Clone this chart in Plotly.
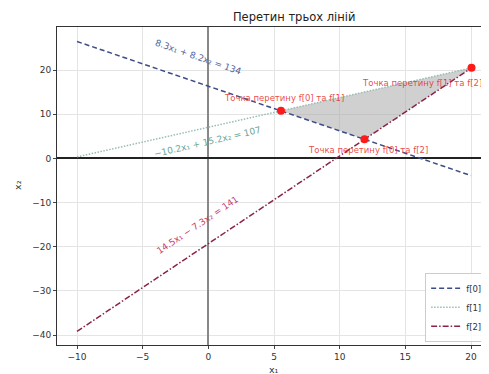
import plotly.graph_objects as go

# Line endpoints (x from -10 to 20)
line_x = [-10, 20]
f0_y = [26.46, -3.90]
f1_y = [0.33, 20.46]
f2_y = [-39.18, 20.41]
line_names = ["f[0]", "f[1]", "f[2]"]

# Intersection points
pts_x = [5.53, 11.89, 20.04]
pts_y = [10.75, 4.31, 20.49]
pt_labels = ["Точка перетину f[0] та f[1]", "Точка перетину f[0] та f[2]", "Точка перетину f[1] та f[2]"]

eq_labels = ["8.3x₁ + 8.2x₂ = 134", "−10.2x₁ + 15.2x₂ = 107", "14.5x₁ − 7.3x₂ = 141"]
eq_pos_x = [-0.8, -0.1, -0.8]
eq_pos_y = [22.9, 3.6, -15.2]

x_ticks = [-10, -5, 0, 5, 10, 15, 20]
y_ticks = [-40, -30, -20, -10, 0, 10, 20]

fig = go.Figure()

# filled triangle
fig.add_trace(go.Scatter(x=pts_x + [pts_x[0]], y=pts_y + [pts_y[0]], fill="toself",
                         fillcolor="rgba(170,170,170,0.55)", line=dict(width=0),
                         mode="lines", showlegend=False, hoverinfo="skip"))

fig.add_trace(go.Scatter(x=line_x, y=f0_y, mode="lines", name=line_names[0],
                         line=dict(color="#3b4c86", dash="5px,3px", width=1.5)))
fig.add_trace(go.Scatter(x=line_x, y=f1_y, mode="lines", name=line_names[1],
                         line=dict(color="#98bdb4", dash="1.5px,1.5px", width=1.5)))
fig.add_trace(go.Scatter(x=line_x, y=f2_y, mode="lines", name=line_names[2],
                         line=dict(color="#8a2346", dash="6px,2px,1.5px,2px", width=1.5)))

fig.add_trace(go.Scatter(x=pts_x, y=pts_y, mode="markers", showlegend=False,
                         marker=dict(color="#ff1a1a", size=8)))

# point annotations (pixel offsets from the points)
pt_xshift = [3, 4, -50]
pt_yshift = [13, -11, -15]
for i in range(3):
    fig.add_annotation(x=pts_x[i], y=pts_y[i], text=pt_labels[i], showarrow=False,
                       xshift=pt_xshift[i], yshift=pt_yshift[i],
                       font=dict(size=8.5, color="rgba(230,40,40,0.85)"))

eq_colors = ["#55659a", "#6aa596", "#c8386e"]
eq_angles = [19, -13, -34]
for i in range(3):
    fig.add_annotation(x=eq_pos_x[i], y=eq_pos_y[i], text=eq_labels[i], showarrow=False,
                       textangle=eq_angles[i], font=dict(size=9, color=eq_colors[i]))

# axis titles
fig.add_annotation(x=5, y=-0.076, xref="x", yref="paper", text="x₁", showarrow=False,
                   font=dict(size=9.5, color="#333"), yanchor="middle")
fig.add_annotation(x=-0.09, y=-6, xref="paper", yref="y", text="x₂", showarrow=False,
                   textangle=-90, font=dict(size=9.5, color="#333"), xanchor="center")

# page body has an 8px margin, so the figure is 8px smaller than the window
fig.update_layout(
    width=481, height=366,
    margin=dict(l=49, r=0, t=19, b=29),
    paper_bgcolor="white", plot_bgcolor="white",
    title=dict(text="Перетин трьох ліній", x=0.549, xanchor="center", xref="paper",
               y=1 - 9 / 366, yanchor="middle", yref="container",
               font=dict(size=11.5, color="#222", family="DejaVu Sans")),
    font=dict(family="DejaVu Sans", size=9, color="#333"),
    legend=dict(x=0.998, y=0.01, xanchor="right", yanchor="bottom",
                bgcolor="rgba(255,255,255,0.85)", bordercolor="#ccc", borderwidth=1,
                font=dict(size=8.5), tracegroupgap=0, itemwidth=30),
    showlegend=True,
)
fig.update_xaxes(range=[-11.523, 21.37], tickvals=x_ticks, showgrid=True, gridcolor="#e4e4e4",
                 zeroline=True, zerolinecolor="#888", zerolinewidth=2, automargin=False,
                 showline=True, linecolor="#333", linewidth=1, mirror=True, ticks="outside", ticklen=3,
                 tickfont=dict(size=9))
fig.update_yaxes(range=[-42.26, 29.74], tickvals=y_ticks, showgrid=True, gridcolor="#e4e4e4",
                 zeroline=True, zerolinecolor="#222", zerolinewidth=1.5, automargin=False,
                 showline=True, linecolor="#333", linewidth=1, mirror=True, ticks="outside", ticklen=3,
                 tickfont=dict(size=9))

fig.write_html("out.html")
